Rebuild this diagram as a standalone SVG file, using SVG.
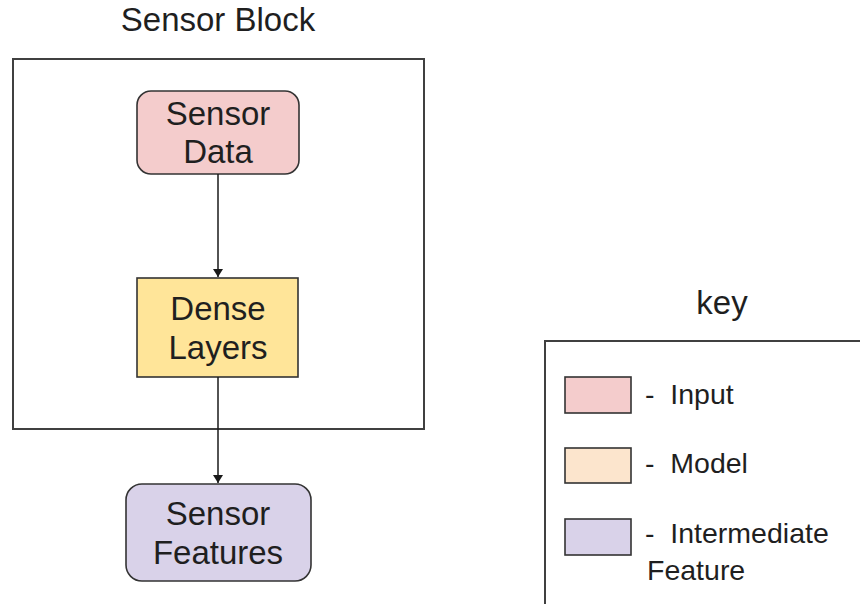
<svg xmlns="http://www.w3.org/2000/svg" width="860" height="604" viewBox="0 0 860 604">
  <style>
    .lbl { font-family: "Liberation Sans", Arial, sans-serif; font-size: 33px; fill: #1f1f1f; text-anchor: middle; }
    .leg { font-family: "Liberation Sans", Arial, sans-serif; font-size: 28.5px; fill: #1f1f1f; white-space: pre; }
    .frame { fill: none; stroke: #404040; stroke-width: 2; }
    .node { stroke: #333333; stroke-width: 1.6; }
    .edge { stroke: #1a1a1a; stroke-width: 1.5; fill: none; marker-end: url(#arrow); }
  </style>
  <defs>
    <marker id="arrow" viewBox="0 0 8 10" refX="8" refY="5" markerWidth="8" markerHeight="10" markerUnits="userSpaceOnUse" orient="auto">
      <path d="M0,0 L8,5 L0,10 z" fill="#1a1a1a"/>
    </marker>
  </defs>

  <!-- sensor block container -->
  <g id="sensor-block">
    <text class="lbl" x="218" y="31">Sensor Block</text>
    <rect class="frame" x="13" y="59" width="411" height="370"/>
  </g>

  <g id="sensor-data">
    <rect class="node" x="137" y="91" width="162" height="83" rx="14" fill="#f4cccc"/>
    <text class="lbl" x="218" y="125">Sensor</text>
    <text class="lbl" x="218" y="163">Data</text>
  </g>

  <g id="dense-layers">
    <rect class="node" x="137" y="278" width="161" height="99" fill="#ffe599"/>
    <text class="lbl" x="218" y="320">Dense</text>
    <text class="lbl" x="218" y="359">Layers</text>
  </g>

  <g id="sensor-features">
    <rect class="node" x="126" y="484" width="185" height="97" rx="16" fill="#d9d2e9"/>
    <text class="lbl" x="218" y="525">Sensor</text>
    <text class="lbl" x="218" y="564">Features</text>
  </g>

  <!-- connectors -->
  <g id="connectors">
    <line class="edge" x1="218" y1="174" x2="218" y2="277"/>
    <line class="edge" x1="218" y1="377" x2="218" y2="483"/>
  </g>

  <!-- legend -->
  <g id="key">
    <text class="lbl" x="722" y="314">key</text>
    <path class="frame" d="M545,604 V341 H862"/>
    <rect class="node" x="565" y="377" width="66" height="36" fill="#f4cccc"/>
    <text class="leg" x="645" y="404">-  Input</text>
    <rect class="node" x="565" y="448" width="66" height="35" fill="#fce5cd"/>
    <text class="leg" x="645" y="473">-  Model</text>
    <rect class="node" x="565" y="519" width="66" height="36" fill="#d9d2e9"/>
    <text class="leg" x="645" y="543">-  Intermediate</text>
    <text class="leg" x="647" y="580">Feature</text>
  </g>
</svg>
